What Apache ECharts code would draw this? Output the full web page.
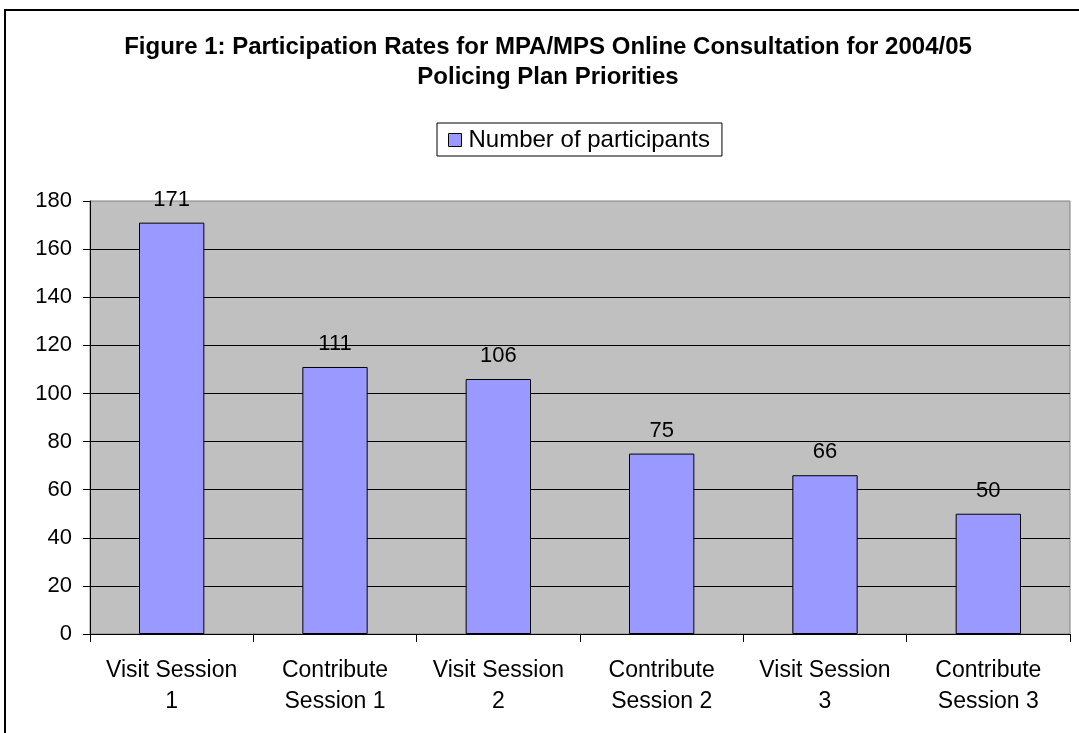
<!DOCTYPE html>
<html>
<head>
<meta charset="utf-8">
<script src="https://cdn.jsdelivr.net/npm/echarts@6/dist/echarts.min.js"></script>
<style>
html,body{margin:0;padding:0;background:#fff;}
#chart{width:1079px;height:733px;}
</style>
</head>
<body>
<div id="chart"></div>
<script>
var titleText = 'Figure 1: Participation Rates for MPA/MPS Online Consultation for 2004/05\nPolicing Plan Priorities';
var seriesName = 'Number of participants';
var categories = ['Visit Session\n1', 'Contribute\nSession 1', 'Visit Session\n2', 'Contribute\nSession 2', 'Visit Session\n3', 'Contribute\nSession 3'];
var participants = [171, 111, 106, 75, 66, 50];
var yTicks = {min: 0, max: 180, interval: 20};

var FONT = '"Liberation Sans", Arial, sans-serif';
var chart = echarts.init(document.getElementById('chart'), null, {renderer: 'canvas'});
chart.setOption({
  animation: false,
  backgroundColor: '#ffffff',
  textStyle: {fontFamily: FONT, color: '#000'},
  graphic: [{
    type: 'rect', z: 100, silent: true,
    shape: {x: 5, y: 10, width: 1200, height: 900},
    style: {fill: 'none', stroke: '#000', lineWidth: 2}
  }, {
    type: 'text', z: 100, silent: true,
    x: 548, y: 32,
    style: {
      text: titleText, fontFamily: FONT, fontSize: 24, fontWeight: 'bold', fill: '#000',
      lineHeight: 30, align: 'center', verticalAlign: 'top'
    }
  }],
  legend: {
    left: 437, top: 123,
    padding: [5, 12, 4, 11],
    borderColor: '#000', borderWidth: 1,
    itemWidth: 13, itemHeight: 13, itemGap: 7,
    icon: 'rect',
    itemStyle: {color: '#9999FF', borderColor: '#000', borderWidth: 1},
    textStyle: {fontFamily: FONT, fontSize: 24, color: '#000', lineHeight: 24, padding: [0, 0, 0, 2]},
    data: [seriesName]
  },
  grid: {
    left: 90, right: 9, top: 201, bottom: 99,
    show: true, backgroundColor: '#C0C0C0', borderColor: '#808080', borderWidth: 1
  },
  xAxis: {
    type: 'category',
    data: categories,
    axisLine: {lineStyle: {color: '#000', width: 1}},
    axisTick: {show: true, length: 8, alignWithLabel: false, lineStyle: {color: '#000'}},
    axisLabel: {fontFamily: FONT, fontSize: 23, color: '#000', lineHeight: 31, margin: 21, interval: 0}
  },
  yAxis: {
    type: 'value',
    min: yTicks.min, max: yTicks.max, interval: yTicks.interval,
    axisLine: {show: true, lineStyle: {color: '#000', width: 1}},
    axisTick: {show: true, length: 7, lineStyle: {color: '#000'}},
    axisLabel: {fontFamily: FONT, fontSize: 22, color: '#000', margin: 18, padding: [7, 0, 0, 0]},
    splitLine: {show: true, showMaxLine: false, lineStyle: {color: '#000', width: 1}}
  },
  series: [{
    name: seriesName,
    type: 'bar',
    data: participants,
    barWidth: '40%',
    itemStyle: {color: '#9999FF', borderColor: '#000', borderWidth: 1},
    label: {show: true, position: 'top', distance: 12, fontFamily: FONT, fontSize: 22, color: '#000'}
  }]
});
</script>
</body>
</html>
